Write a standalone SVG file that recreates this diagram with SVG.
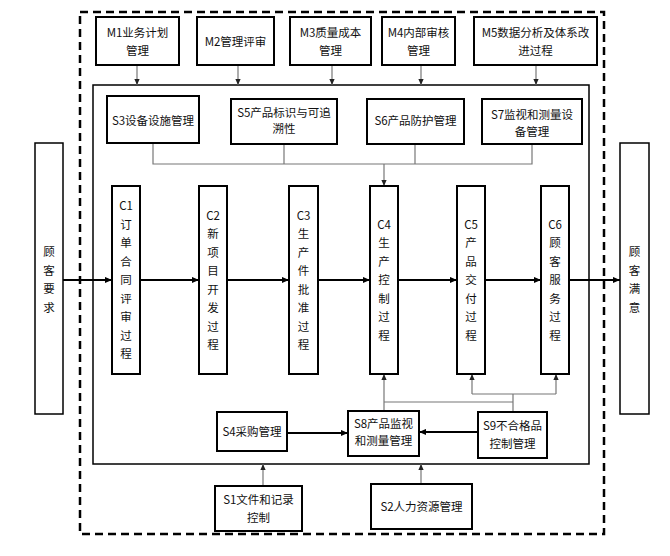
<svg xmlns="http://www.w3.org/2000/svg" width="670" height="556" viewBox="0 0 670 556">
<style>
.bx{fill:#fff;stroke:#000;stroke-width:2}
.cb{fill:#fff;stroke:#000;stroke-width:1.5}
.t{font-family:"Noto Sans CJK SC","Noto Sans",sans-serif;font-size:11.5px;fill:#111;text-anchor:middle}
.g{fill:none;stroke:#777;stroke-width:1.2}
.k{fill:none;stroke:#000;stroke-width:2}
</style>
<defs>
<marker id="ag" viewBox="0 0 8 8" refX="8" refY="4" markerWidth="6" markerHeight="6" orient="auto" markerUnits="userSpaceOnUse"><path d="M0,0.5 L8,4 L0,7.5 z" fill="#222"/></marker>
<marker id="ak" viewBox="0 0 8 8" refX="8" refY="4" markerWidth="7" markerHeight="7" orient="auto" markerUnits="userSpaceOnUse"><path d="M0,0.5 L8,4 L0,7.5 z" fill="#000"/></marker>
</defs>
<rect id="outer" x="80" y="12" width="524" height="522" fill="none" stroke="#000" stroke-width="2.5" stroke-dasharray="8 5"/>
<rect id="inner" x="93" y="85" width="496" height="379" fill="none" stroke="#000" stroke-width="1.5"/>
<g id="connectors">
<path class="g" d="M137,65 V85" marker-end="url(#ag)"/>
<path class="g" d="M238,65 V85" marker-end="url(#ag)"/>
<path class="g" d="M332,65 V85" marker-end="url(#ag)"/>
<path class="g" d="M421,65 V85" marker-end="url(#ag)"/>
<path class="g" d="M536,65 V85" marker-end="url(#ag)"/>
<path class="g" d="M153,143 V164 H532 V144"/>
<path class="g" d="M284,144 V164"/>
<path class="g" d="M415,144 V164"/>
<path class="g" d="M384,164 V186" marker-end="url(#ag)"/>
<path class="g" d="M384,411 V374" marker-end="url(#ag)"/>
<path class="g" d="M384,402 H513"/>
<path class="g" d="M513,412 V394"/>
<path class="g" d="M472,394 H556"/>
<path class="g" d="M472,394 V374" marker-end="url(#ag)"/>
<path class="g" d="M556,394 V374" marker-end="url(#ag)"/>
<path class="k" d="M287,433 H348" marker-end="url(#ak)"/>
<path class="k" d="M478,432 H419" marker-end="url(#ak)"/>
<path class="g" d="M263,486 V464" marker-end="url(#ag)"/>
<path class="g" d="M421,484 V464" marker-end="url(#ag)"/>
<path class="k" d="M63,280 H112" marker-end="url(#ak)"/>
<path class="k" d="M140,280 H199" marker-end="url(#ak)"/>
<path class="k" d="M227,280 H289" marker-end="url(#ak)"/>
<path class="k" d="M318,280 H370" marker-end="url(#ak)"/>
<path class="k" d="M398,280 H457" marker-end="url(#ak)"/>
<path class="k" d="M485,280 H541" marker-end="url(#ak)"/>
<path class="k" d="M569,280 H620" marker-end="url(#ak)"/>
</g>
<g id="M1"><rect class="bx" x="96" y="17" width="83" height="48"/><text class="t" x="137.5" y="37">M1业务计划</text><text class="t" x="137.5" y="55">管理</text></g>
<g id="M2"><rect class="bx" x="197" y="17" width="77" height="48"/><text class="t" x="235.5" y="46">M2管理评审</text></g>
<g id="M3"><rect class="bx" x="290" y="17" width="81" height="48"/><text class="t" x="330.5" y="37">M3质量成本</text><text class="t" x="330.5" y="55">管理</text></g>
<g id="M4"><rect class="bx" x="382" y="17" width="73" height="48"/><text class="t" x="418.5" y="37">M4内部审核</text><text class="t" x="418.5" y="55">管理</text></g>
<g id="M5"><rect class="bx" x="474" y="17" width="123" height="48"/><text class="t" x="535.5" y="37">M5数据分析及体系改</text><text class="t" x="535.5" y="55">进过程</text></g>
<g id="S3"><rect class="bx" x="107" y="96" width="92" height="47"/><text class="t" x="153" y="124.5">S3设备设施管理</text></g>
<g id="S5"><rect class="bx" x="231" y="99" width="106" height="45"/><text class="t" x="284" y="117">S5产品标识与可追</text><text class="t" x="284" y="133">溯性</text></g>
<g id="S6"><rect class="bx" x="367" y="99" width="97" height="45"/><text class="t" x="415.5" y="125">S6产品防护管理</text></g>
<g id="S7"><rect class="bx" x="482" y="99" width="100" height="45"/><text class="t" x="532" y="119">S7监视和测量设</text><text class="t" x="532" y="135.5">备管理</text></g>
<g id="cust-req"><rect class="cb" x="35" y="143" width="28" height="271"/><text class="t" x="49"><tspan x="49" y="256">顾</tspan><tspan x="49" y="274.5">客</tspan><tspan x="49" y="293">要</tspan><tspan x="49" y="311.5">求</tspan></text></g>
<g id="cust-sat"><rect class="cb" x="620" y="143" width="29" height="271"/><text class="t" x="634.5"><tspan x="634.5" y="256">顾</tspan><tspan x="634.5" y="274.5">客</tspan><tspan x="634.5" y="293">满</tspan><tspan x="634.5" y="311.5">意</tspan></text></g>
<g id="C1"><rect class="bx" x="112" y="186" width="28" height="188"/><text class="t"><tspan x="126" y="210">C1</tspan><tspan x="126" y="228.5">订</tspan><tspan x="126" y="247">单</tspan><tspan x="126" y="265.5">合</tspan><tspan x="126" y="284">同</tspan><tspan x="126" y="302.5">评</tspan><tspan x="126" y="321">审</tspan><tspan x="126" y="339.5">过</tspan><tspan x="126" y="358">程</tspan></text></g>
<g id="C2"><rect class="bx" x="199" y="186" width="28" height="188"/><text class="t"><tspan x="213" y="219.5">C2</tspan><tspan x="213" y="238">新</tspan><tspan x="213" y="256.5">项</tspan><tspan x="213" y="275">目</tspan><tspan x="213" y="293.5">开</tspan><tspan x="213" y="312">发</tspan><tspan x="213" y="330.5">过</tspan><tspan x="213" y="349">程</tspan></text></g>
<g id="C3"><rect class="bx" x="289" y="186" width="29" height="188"/><text class="t"><tspan x="303.5" y="219.5">C3</tspan><tspan x="303.5" y="238">生</tspan><tspan x="303.5" y="256.5">产</tspan><tspan x="303.5" y="275">件</tspan><tspan x="303.5" y="293.5">批</tspan><tspan x="303.5" y="312">准</tspan><tspan x="303.5" y="330.5">过</tspan><tspan x="303.5" y="349">程</tspan></text></g>
<g id="C4"><rect class="bx" x="370" y="186" width="28" height="188"/><text class="t"><tspan x="384" y="228.5">C4</tspan><tspan x="384" y="247">生</tspan><tspan x="384" y="265.5">产</tspan><tspan x="384" y="284">控</tspan><tspan x="384" y="302.5">制</tspan><tspan x="384" y="321">过</tspan><tspan x="384" y="339.5">程</tspan></text></g>
<g id="C5"><rect class="bx" x="457" y="186" width="28" height="188"/><text class="t"><tspan x="471" y="228.5">C5</tspan><tspan x="471" y="247">产</tspan><tspan x="471" y="265.5">品</tspan><tspan x="471" y="284">交</tspan><tspan x="471" y="302.5">付</tspan><tspan x="471" y="321">过</tspan><tspan x="471" y="339.5">程</tspan></text></g>
<g id="C6"><rect class="bx" x="541" y="186" width="28" height="188"/><text class="t"><tspan x="555" y="228.5">C6</tspan><tspan x="555" y="247">顾</tspan><tspan x="555" y="265.5">客</tspan><tspan x="555" y="284">服</tspan><tspan x="555" y="302.5">务</tspan><tspan x="555" y="321">过</tspan><tspan x="555" y="339.5">程</tspan></text></g>
<g id="S4"><rect class="bx" x="217" y="412" width="70" height="39"/><text class="t" x="252" y="436">S4采购管理</text></g>
<g id="S8"><rect class="bx" x="348" y="411" width="71" height="45"/><text class="t" x="383.5" y="427.5">S8产品监视</text><text class="t" x="383.5" y="445">和测量管理</text></g>
<g id="S9"><rect class="bx" x="478" y="412" width="69" height="46"/><text class="t" x="512.5" y="430">S9不合格品</text><text class="t" x="512.5" y="448">控制管理</text></g>
<g id="S1"><rect class="bx" x="215" y="486" width="87" height="45"/><text class="t" x="258.5" y="504">S1文件和记录</text><text class="t" x="258.5" y="522">控制</text></g>
<g id="S2"><rect class="bx" x="371" y="484" width="101" height="45"/><text class="t" x="421.5" y="511">S2人力资源管理</text></g>
</svg>
